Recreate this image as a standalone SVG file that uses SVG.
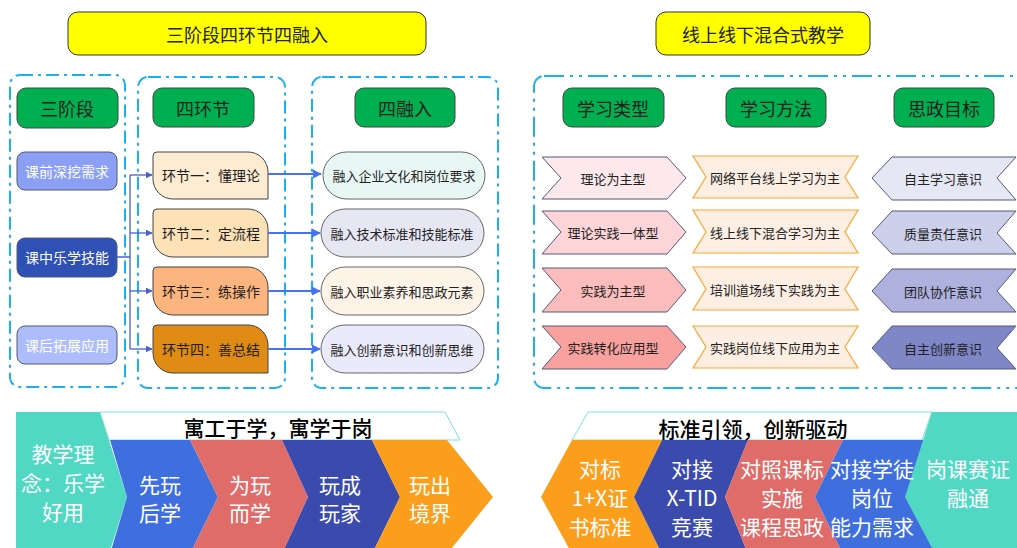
<svg xmlns="http://www.w3.org/2000/svg" width="1017" height="548" viewBox="0 0 1017 548">
<defs>
<style>
text{font-family:"Noto Sans CJK SC","Liberation Sans",sans-serif;text-anchor:middle;dominant-baseline:central;}
.title{fill:#ffff00;stroke:#333;stroke-width:1}
.tt{font-size:18px;fill:#222}
.box{fill:none;stroke:#1ab0f0;stroke-width:2;stroke-dasharray:13 5 3 5}
.box2{fill:none;stroke:#1ab0f0;stroke-width:2;stroke-dasharray:20 6 3 6 3 6}
.hdr{fill:#00b050;stroke:#3d4a3d;stroke-width:1}
.ht{font-size:18px;fill:#1e1e1e}
.stg{stroke:#555a70;stroke-width:1}
.st{font-size:14px;fill:#fff}
.lk{stroke:#444;stroke-width:1}
.lt{font-size:14px;fill:#1e1e1e}
.rj{stroke:#666;stroke-width:1}
.rt{font-size:13px;fill:#222}
.ty{stroke:#55587a;stroke-width:1}
.me{fill:#fdeee3;stroke:#f9a830;stroke-width:1.2}
.bt{font-size:21px;fill:#fff}
.bh{font-size:21px;fill:#000;font-weight:500}
.fan{fill:none;stroke:#4a5fd0;stroke-width:1.3}
.arr{fill:none;stroke:#4472f0;stroke-width:2}
</style>
<marker id="ah" viewBox="0 0 10 10" refX="9" refY="5" markerWidth="7" markerHeight="7" markerUnits="userSpaceOnUse" orient="auto"><path d="M0,0 L10,5 L0,10 Z" fill="#4a5fd0"/></marker>
<marker id="ah2" viewBox="0 0 10 10" refX="9" refY="5" markerWidth="9" markerHeight="9" markerUnits="userSpaceOnUse" orient="auto"><path d="M0,0 L10,5 L0,10 Z" fill="#4472f0"/></marker>
</defs>
<rect width="1017" height="548" fill="#fff"/>

<g id="title1"><rect class="title" x="68" y="12" width="358" height="43" rx="10"/><text class="tt" x="247" y="34">三阶段四环节四融入</text></g>
<g id="title2"><rect class="title" x="656" y="12" width="214" height="43" rx="10"/><text class="tt" x="763" y="34">线上线下混合式教学</text></g>

<g id="containers">
<rect class="box" x="10" y="75" width="115" height="312" rx="10"/>
<rect class="box" x="138" y="77" width="147" height="311" rx="10"/>
<rect class="box" x="312" y="77" width="186" height="311" rx="10"/>
<rect class="box2" x="534" y="76" width="500" height="312" rx="10"/>
</g>

<g id="h-sanjieduan"><rect class="hdr" x="17" y="88" width="101" height="40" rx="9"/><text class="ht" x="67" y="108">三阶段</text></g>
<g id="h-sihuanjie"><rect class="hdr" x="153" y="88" width="101" height="39" rx="9"/><text class="ht" x="203" y="108">四环节</text></g>
<g id="h-sirongru"><rect class="hdr" x="355" y="88" width="100" height="39" rx="9"/><text class="ht" x="405" y="108">四融入</text></g>
<g id="h-leixing"><rect class="hdr" x="563" y="88" width="101" height="39" rx="9"/><text class="ht" x="613" y="108">学习类型</text></g>
<g id="h-fangfa"><rect class="hdr" x="726" y="88" width="100" height="39" rx="9"/><text class="ht" x="776" y="108">学习方法</text></g>
<g id="h-sizheng"><rect class="hdr" x="894" y="88" width="100" height="39" rx="9"/><text class="ht" x="944" y="108">思政目标</text></g>

<g id="stage1"><rect class="stg" x="17" y="152" width="100" height="38" rx="8" fill="#8b9ff5"/><text class="st" x="67" y="171">课前深挖需求</text></g>
<g id="stage2"><rect class="stg" x="17" y="238" width="100" height="39" rx="8" fill="#2f51b5"/><text class="st" x="67" y="257">课中乐学技能</text></g>
<g id="stage3"><rect class="stg" x="17" y="326" width="100" height="38" rx="8" fill="#adbdfb"/><text class="st" x="67" y="345">课后拓展应用</text></g>

<g id="link1"><path class="lk" fill="#fdebd2" d="M157,152 H248 A20,20 0 0 1 268,172 V199 H173 A20,20 0 0 1 153,179 V156 Q153,152 157,152 Z"/><text class="lt" x="211" y="175">环节一：懂理论</text></g>
<g id="link2"><path class="lk" fill="#fde2b8" d="M157,209 H248 A20,20 0 0 1 268,229 V257 H173 A20,20 0 0 1 153,237 V213 Q153,209 157,209 Z"/><text class="lt" x="211" y="233">环节二：定流程</text></g>
<g id="link3"><path class="lk" fill="#fdb57f" d="M157,267 H248 A20,20 0 0 1 268,287 V315 H173 A20,20 0 0 1 153,295 V271 Q153,267 157,267 Z"/><text class="lt" x="211" y="291">环节三：练操作</text></g>
<g id="link4"><path class="lk" fill="#e08b14" d="M157,325 H248 A20,20 0 0 1 268,345 V373 H173 A20,20 0 0 1 153,353 V329 Q153,325 157,325 Z"/><text class="lt" x="211" y="349">环节四：善总结</text></g>

<g id="rong1"><rect class="rj" x="323" y="152" width="162" height="47" rx="23.5" fill="#e8f7f4"/><text class="rt" x="404" y="175">融入企业文化和岗位要求</text></g>
<g id="rong2"><rect class="rj" x="321" y="209" width="163" height="48" rx="24" fill="#e7e7f4"/><text class="rt" x="402" y="233">融入技术标准和技能标准</text></g>
<g id="rong3"><rect class="rj" x="321" y="267" width="163" height="48" rx="24" fill="#fdf3e7"/><text class="rt" x="402" y="291">融入职业素养和思政元素</text></g>
<g id="rong4"><rect class="rj" x="321" y="325" width="163" height="48" rx="24" fill="#eaeafb"/><text class="rt" x="402" y="349">融入创新意识和创新思维</text></g>

<g id="connectors">
<path class="fan" d="M117,257 H130 M130,175 V349"/>
<path class="fan" d="M130,175 H152" marker-end="url(#ah)"/>
<path class="fan" d="M130,233 H152" marker-end="url(#ah)"/>
<path class="fan" d="M130,291 H152" marker-end="url(#ah)"/>
<path class="fan" d="M130,349 H152" marker-end="url(#ah)"/>
<path class="arr" d="M268,174 H321" marker-end="url(#ah2)"/>
<path class="arr" d="M268,233 H320" marker-end="url(#ah2)"/>
<path class="arr" d="M268,291 H320" marker-end="url(#ah2)"/>
<path class="arr" d="M268,349 H320" marker-end="url(#ah2)"/>
</g>

<g id="type1"><polygon class="ty" fill="#fde9ec" points="542,157 667,157 686,178 667,199 542,199 561,178"/><text class="rt" x="613" y="178">理论为主型</text></g>
<g id="type2"><polygon class="ty" fill="#fdd5d8" points="542,211 667,211 686,232 667,254 542,254 561,232"/><text class="rt" x="613" y="232">理论实践一体型</text></g>
<g id="type3"><polygon class="ty" fill="#fbbcbc" points="542,268 667,268 686,290 667,312 542,312 561,290"/><text class="rt" x="613" y="290">实践为主型</text></g>
<g id="type4"><polygon class="ty" fill="#f8a19e" points="542,326 667,326 686,347 667,369 542,369 561,347"/><text class="rt" x="613" y="347">实践转化应用型</text></g>

<g id="method1"><polygon class="me" points="693,156 858,156 845,177 858,198 693,198 706,177"/><text class="rt" x="775" y="177">网络平台线上学习为主</text></g>
<g id="method2"><polygon class="me" points="693,210 858,210 845,232 858,253 693,253 706,232"/><text class="rt" x="775" y="232">线上线下混合学习为主</text></g>
<g id="method3"><polygon class="me" points="693,267 858,267 845,289 858,310 693,310 706,289"/><text class="rt" x="775" y="289">培训道场线下实践为主</text></g>
<g id="method4"><polygon class="me" points="693,326 858,326 845,347 858,368 693,368 706,347"/><text class="rt" x="775" y="347">实践岗位线下应用为主</text></g>

<g id="goal1"><polygon class="ty" fill="#e6e7f5" points="892,157 1016,157 997,178 1016,200 892,200 872,178"/><text class="rt" x="943" y="178">自主学习意识</text></g>
<g id="goal2"><polygon class="ty" fill="#cdd0ea" points="892,211 1016,211 997,233 1016,254 892,254 872,233"/><text class="rt" x="943" y="233">质量责任意识</text></g>
<g id="goal3"><polygon class="ty" fill="#aeb1de" points="892,269 1016,269 997,291 1016,312 892,312 872,291"/><text class="rt" x="943" y="291">团队协作意识</text></g>
<g id="goal4"><polygon class="ty" fill="#7f87c9" points="892,326 1016,326 997,348 1016,369 892,369 872,348"/><text class="rt" x="943" y="348">自主创新意识</text></g>

<g id="banner-left">
<polygon fill="#50d8c4" points="16,412 100,412 127,497 109,554 16,554"/>
<polygon fill="#fff" stroke="#7fe0d2" stroke-width="1" points="100,412 445,412 460,440 109,440"/>
<polygon fill="#3f6fdf" points="110,440 190,440 218,497 190,554 110,554 127,497"/>
<polygon fill="#e06c6a" points="190,440 282,440 308,497 282,554 190,554 218,497"/>
<polygon fill="#3a4bad" points="282,440 372,440 400,497 372,554 282,554 308,497"/>
<polygon fill="#fb9e1c" points="372,440 447,440 493,497 447,554 372,554 400,497"/>
<text class="bh" x="278" y="427">寓工于学，寓学于岗</text>
<text class="bt" x="63" y="453">教学理</text>
<text class="bt" x="63" y="482">念：乐学</text>
<text class="bt" x="63" y="511">好用</text>
<text class="bt" x="160" y="484">先玩</text>
<text class="bt" x="160" y="512">后学</text>
<text class="bt" x="250" y="484">为玩</text>
<text class="bt" x="250" y="512">而学</text>
<text class="bt" x="340" y="484">玩成</text>
<text class="bt" x="340" y="512">玩家</text>
<text class="bt" x="430" y="484">玩出</text>
<text class="bt" x="430" y="512">境界</text>
</g>

<g id="banner-right">
<polygon fill="#fff" stroke="#7fe0d2" stroke-width="1" points="588,412 932,412 922,440 572,440"/>
<polygon fill="#fb9e1c" points="572,440 662,440 634,497 662,554 572,554 541,497"/>
<polygon fill="#3a4bad" points="662,440 748,440 725,497 748,554 662,554 634,497"/>
<polygon fill="#e06c6a" points="748,440 843,440 815,497 843,554 748,554 725,497"/>
<polygon fill="#3f6fdf" points="843,440 940,440 940,554 843,554 815,497"/>
<polygon fill="#50d8c4" points="932,412 1017,412 1017,548 932,548 905,497"/>
<text class="bh" x="753" y="428">标准引领，创新驱动</text>
<text class="bt" x="600" y="468">对标</text>
<text class="bt" x="600" y="497">1+X证</text>
<text class="bt" x="600" y="526">书标准</text>
<text class="bt" x="692" y="468">对接</text>
<text class="bt" x="692" y="497">X-TID</text>
<text class="bt" x="692" y="526">竞赛</text>
<text class="bt" x="782" y="468">对照课标</text>
<text class="bt" x="782" y="497">实施</text>
<text class="bt" x="782" y="526">课程思政</text>
<text class="bt" x="872" y="468">对接学徒</text>
<text class="bt" x="872" y="497">岗位</text>
<text class="bt" x="872" y="526">能力需求</text>
<text class="bt" x="968" y="468">岗课赛证</text>
<text class="bt" x="968" y="497">融通</text>
</g>
</svg>
